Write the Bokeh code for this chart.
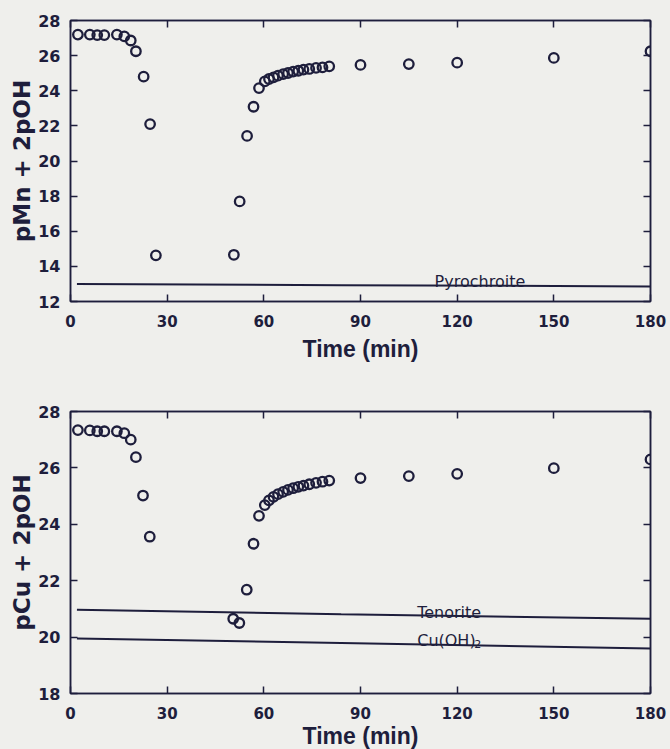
from bokeh.plotting import figure
from bokeh.layouts import column
from bokeh.models import LinearAxis, FixedTicker, Range1d, Label
from bokeh.embed import file_html
from bokeh.resources import INLINE

# ---------------- data ----------------
x_ticks = [0, 30, 60, 90, 120, 150, 180]

mn_time = [2.3, 6, 8.3, 10.5, 14.4, 16.7, 18.7, 20.3, 22.7, 24.7, 26.5,
           50.7, 52.5, 54.8, 56.8, 58.5,
           60.3, 61.6, 63.0, 64.4, 66.0, 67.5, 69.1, 70.7, 72.3, 74.1, 76.2, 78.2, 80.3,
           90, 105, 120, 150, 180]
mn_value = [27.2, 27.2, 27.17, 27.17, 27.2, 27.1, 26.86, 26.25, 24.8, 22.1, 14.63,
            14.66, 17.7, 21.43, 23.09, 24.15,
            24.53, 24.67, 24.76, 24.86, 24.95, 25.01, 25.09, 25.14, 25.2, 25.24, 25.3, 25.33, 25.39,
            25.47, 25.52, 25.6, 25.87, 26.25]

cu_time = [2.3, 6, 8.3, 10.5, 14.4, 16.7, 18.7, 20.3, 22.5, 24.6,
           50.5, 52.4, 54.7, 56.8, 58.5,
           60.3, 61.6, 63.0, 64.4, 66.0, 67.5, 69.1, 70.7, 72.3, 74.1, 76.2, 78.2, 80.3,
           90, 105, 120, 150, 180]
cu_value = [27.34, 27.33, 27.3, 27.3, 27.3, 27.23, 27.0, 26.38, 25.02, 23.56,
            20.65, 20.5, 21.68, 23.31, 24.3,
            24.68, 24.85, 24.97, 25.07, 25.15, 25.22, 25.28, 25.33, 25.37, 25.42, 25.47, 25.51, 25.55,
            25.64, 25.71, 25.79, 25.99, 26.3]

line_time = [2, 84, 180]
pyrochroite = [13.0, 12.93, 12.86]
tenorite = [20.97, 20.81, 20.65]
cu_oh2 = [19.95, 19.79, 19.6]

mn_ticks = [12, 14, 16, 18, 20, 22, 24, 26, 28]
cu_ticks = [18, 20, 22, 24, 26, 28]

# ---------------- style ----------------
INK = "#1e1e3c"
BG = "#efefec"
TICK_FONT = "DejaVu Sans"
YTITLE_FONT = "DejaVu Sans"
XTITLE_FONT = "Liberation Sans"


def style_axis(ax, ticks, label_size, show_labels=True):
    ax.ticker = FixedTicker(ticks=ticks)
    ax.axis_line_color = INK
    ax.axis_line_width = 1.5
    ax.major_tick_line_color = INK
    ax.major_tick_line_width = 1.5
    ax.major_tick_in = 7
    ax.major_tick_out = 0
    ax.minor_tick_line_color = None
    ax.major_label_text_font = TICK_FONT
    ax.major_label_text_font_style = "bold"
    ax.major_label_text_font_size = label_size
    if show_labels:
        ax.major_label_text_color = INK
    else:
        ax.major_label_text_color = None
        ax.major_label_standoff = 0


def make_fig(y0, y1, yticks, ylabel, b_top, b_bottom, f_height,
             x_label_standoff, x_title_standoff):
    p = figure(frame_width=580, frame_height=f_height,
               x_range=Range1d(0, 180), y_range=Range1d(y0, y1),
               output_backend="svg", toolbar_location=None,
               min_border_left=70, min_border_right=20,
               min_border_top=b_top, min_border_bottom=b_bottom,
               background_fill_color=BG, border_fill_color=BG,
               outline_line_color=INK, outline_line_width=1.5)
    p.grid.visible = False

    xa = p.xaxis[0]
    style_axis(xa, x_ticks, "15px")
    xa.major_label_standoff = x_label_standoff
    xa.axis_label = "Time (min)"
    xa.axis_label_text_font = XTITLE_FONT
    xa.axis_label_text_font_style = "bold"
    xa.axis_label_text_font_size = "23px"
    xa.axis_label_text_color = INK
    xa.axis_label_standoff = x_title_standoff

    ya = p.yaxis[0]
    style_axis(ya, yticks, "16px")
    ya.major_label_standoff = 10
    ya.axis_label = ylabel
    ya.axis_label_text_font = YTITLE_FONT
    ya.axis_label_text_font_style = "bold"
    ya.axis_label_text_font_size = "23px"
    ya.axis_label_text_color = INK
    ya.axis_label_standoff = 0

    top = LinearAxis()
    style_axis(top, x_ticks, "4px", show_labels=False)
    p.add_layout(top, "above")
    right = LinearAxis()
    style_axis(right, yticks, "4px", show_labels=False)
    p.add_layout(right, "right")
    return p


# ---------------- top panel: Mn ----------------
p1 = make_fig(12, 28, mn_ticks, "pMn + 2pOH", 20, 65, 281, 13, 6)
p1.line(line_time, pyrochroite, line_color=INK, line_width=2)
p1.scatter(mn_time, mn_value, marker="circle", size=9.5, fill_color=None,
           line_color=INK, line_width=2.3)
p1.add_layout(Label(x=113, y=13.14, text="Pyrochroite", text_font=TICK_FONT,
                    text_font_size="16px", text_color=INK,
                    text_align="left", text_baseline="alphabetic"))

# ---------------- bottom panel: Cu ----------------
p2 = make_fig(18, 28, cu_ticks, "pCu + 2pOH", 45, 50, 282, 13, 1)
p2.line(line_time, tenorite, line_color=INK, line_width=2)
p2.line(line_time, cu_oh2, line_color=INK, line_width=2)
p2.scatter(cu_time, cu_value, marker="circle", size=9.5, fill_color=None,
           line_color=INK, line_width=2.3)
p2.add_layout(Label(x=107.6, y=20.88, text="Tenorite", text_font=TICK_FONT,
                    text_font_size="16px", text_color=INK,
                    text_align="left", text_baseline="alphabetic"))
p2.add_layout(Label(x=107.6, y=19.88, text="Cu(OH)", text_font=TICK_FONT,
                    text_font_size="16px", text_color=INK,
                    text_align="left", text_baseline="alphabetic"))
p2.add_layout(Label(x=107.6, y=19.88, x_offset=57, y_offset=-4, text="2",
                    text_font=TICK_FONT, text_font_size="11px", text_color=INK,
                    text_align="left", text_baseline="alphabetic"))

layout = column(p1, p2, spacing=0, styles={"background-color": BG})

open("out.html", "w").write(file_html(layout, INLINE))
